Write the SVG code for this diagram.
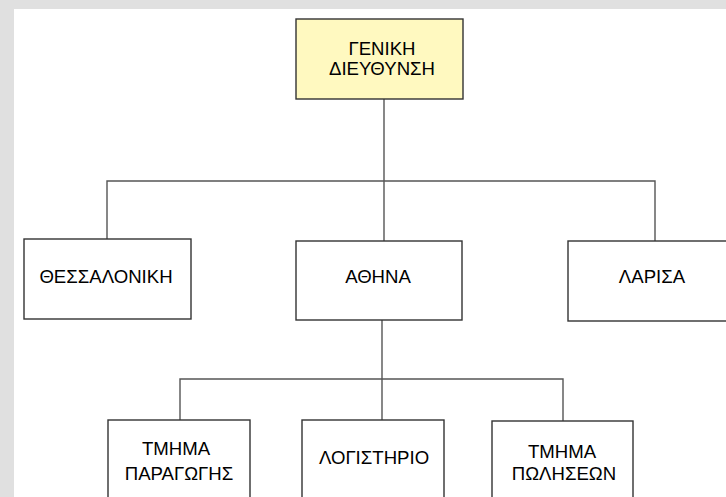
<svg xmlns="http://www.w3.org/2000/svg" width="726" height="497" viewBox="0 0 726 497">
<style>
.box{fill:#ffffff;stroke:#333333;stroke-width:1.4}
.top{fill:#fff9c0}
.lbl{font-family:"Liberation Sans",Arial,sans-serif;font-size:18.6px;fill:#000000;text-anchor:middle}
.conn{fill:none;stroke:#555555;stroke-width:1.4}
</style>
<rect x="0" y="0" width="726" height="497" fill="#e0e0e0"/>
<rect x="14" y="9" width="712" height="488" fill="#ffffff"/>
<g id="connectors">
<path class="conn" d="M384 99V241"/>
<path class="conn" d="M107 239V181H655V241"/>
<path class="conn" d="M382 320V420"/>
<path class="conn" d="M180 420V379H563V421"/>
</g>
<g id="geniki">
<rect class="box top" x="296" y="19" width="167" height="80"/>
<text class="lbl" x="382" y="55">ΓΕΝΙΚΗ</text>
<text class="lbl" x="382" y="75">ΔΙΕΥΘΥΝΣΗ</text>
</g>
<g id="thessaloniki">
<rect class="box" x="24" y="239" width="167" height="80"/>
<text class="lbl" x="106" y="283">ΘΕΣΣΑΛΟΝΙΚΗ</text>
</g>
<g id="athina">
<rect class="box" x="296" y="241" width="166" height="79"/>
<text class="lbl" x="378" y="283">ΑΘΗΝΑ</text>
</g>
<g id="larisa">
<rect class="box" x="568" y="241" width="168" height="80"/>
<text class="lbl" x="652" y="283">ΛΑΡΙΣΑ</text>
</g>
<g id="paragogi">
<rect class="box" x="108" y="420" width="142" height="90"/>
<text class="lbl" x="176" y="455">ΤΜΗΜΑ</text>
<text class="lbl" x="179" y="480">ΠΑΡΑΓΩΓΗΣ</text>
</g>
<g id="logistirio">
<rect class="box" x="302" y="420" width="142" height="90"/>
<text class="lbl" x="374" y="464">ΛΟΓΙΣΤΗΡΙΟ</text>
</g>
<g id="poliseis">
<rect class="box" x="492" y="421" width="141" height="90"/>
<text class="lbl" x="562" y="458">ΤΜΗΜΑ</text>
<text class="lbl" x="564" y="480">ΠΩΛΗΣΕΩΝ</text>
</g>
</svg>
